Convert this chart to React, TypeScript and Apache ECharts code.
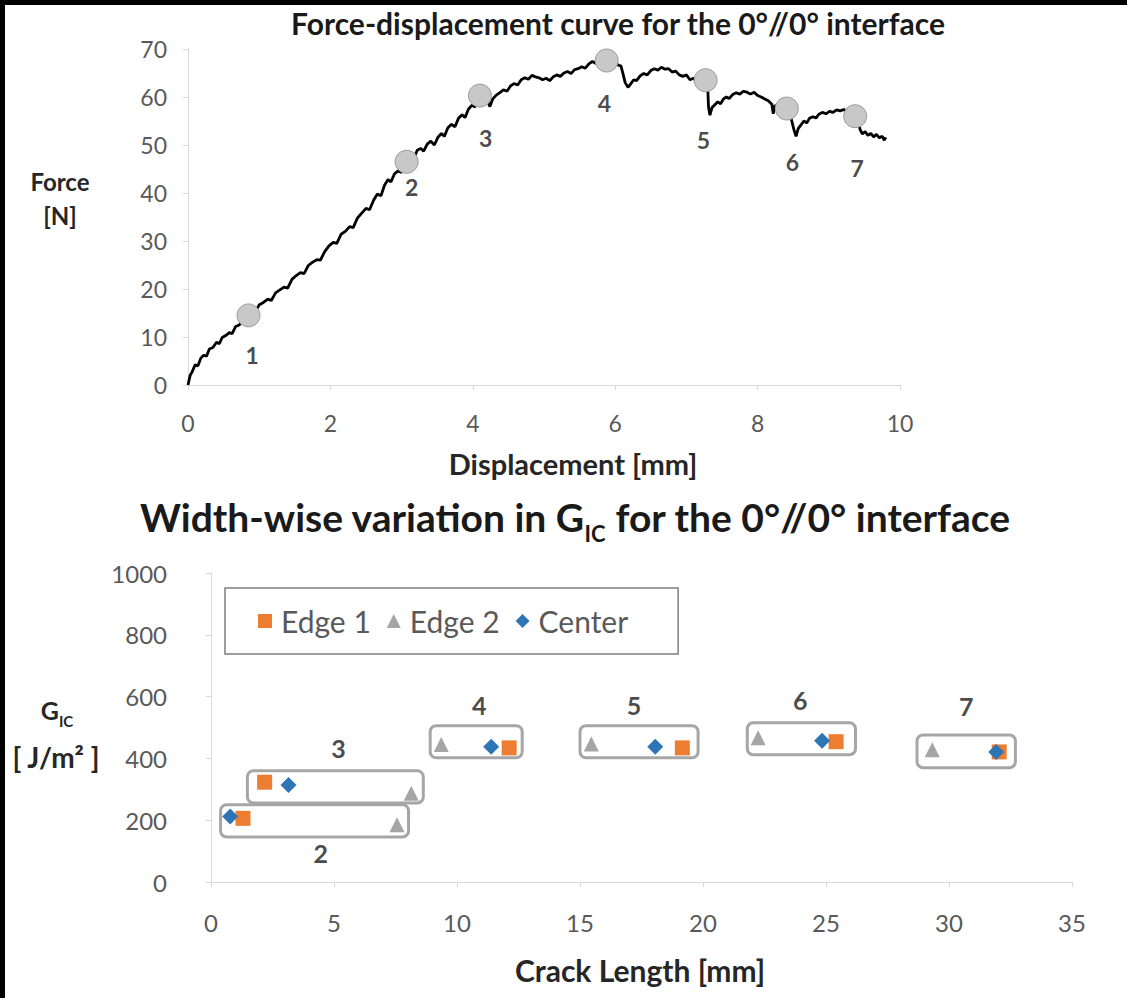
import React, { useEffect, useRef } from "react";
import * as echarts from "echarts";

// ---------- Force-displacement curve ----------
const dispMM = [
  0.00, 0.03, 0.06, 0.10, 0.14, 0.18, 0.22, 0.26, 0.30, 0.35, 0.40, 0.44, 0.48, 0.53, 0.58, 0.62, 0.67, 0.72, 0.77, 0.81, 0.85,
  0.90, 0.95, 1.00, 1.06, 1.12, 1.17, 1.23, 1.29, 1.35, 1.40, 1.46, 1.52, 1.58, 1.63, 1.69, 1.75, 1.81, 1.86, 1.92, 1.98,
  2.04, 2.09, 2.15, 2.21, 2.27, 2.32, 2.38, 2.44, 2.50, 2.55, 2.61, 2.66, 2.71, 2.76, 2.81, 2.85, 2.90, 2.95, 3.00, 3.04, 3.07,
  3.12, 3.17, 3.22, 3.27, 3.31, 3.36, 3.41, 3.46, 3.51, 3.56, 3.60, 3.65, 3.70, 3.75, 3.80, 3.85, 3.89, 3.94, 3.99, 4.03, 4.07, 4.10,
  4.15, 4.20, 4.24, 4.28, 4.33, 4.38, 4.43, 4.48, 4.53, 4.58, 4.63, 4.68, 4.73, 4.78, 4.83, 4.88, 4.93, 4.98, 5.03, 5.08,
  5.13, 5.18, 5.23, 5.28, 5.33, 5.38, 5.43, 5.48, 5.53, 5.58, 5.63, 5.68, 5.73, 5.78, 5.83, 5.88,
  5.95, 6.00, 6.05, 6.08, 6.11, 6.14, 6.18, 6.22, 6.26, 6.30, 6.35, 6.40, 6.45, 6.50, 6.55, 6.60, 6.65, 6.70, 6.75, 6.80,
  6.85, 6.90, 6.95, 7.00, 7.05, 7.10, 7.15, 7.20, 7.27,
  7.30, 7.31, 7.33, 7.36, 7.40, 7.44, 7.48, 7.52, 7.56, 7.60, 7.65, 7.70, 7.75, 7.80, 7.85, 7.90, 7.95, 8.00, 8.05, 8.10,
  8.15, 8.20, 8.22, 8.24, 8.30, 8.35, 8.41,
  8.45, 8.48, 8.51, 8.54, 8.57, 8.61, 8.65, 8.69, 8.73, 8.78, 8.82, 8.86, 8.91, 8.96, 9.01, 9.06, 9.11, 9.16, 9.21, 9.26, 9.31, 9.37,
  9.41, 9.44, 9.47, 9.51, 9.55, 9.59, 9.63, 9.67, 9.71, 9.75, 9.78, 9.80,
];
const forceN = [
  0.0, 2.0, 2.8, 4.2, 4.0, 5.6, 6.2, 6.0, 7.5, 7.8, 8.9, 8.6, 9.9, 10.3, 10.9, 10.7, 12.2, 12.5, 13.6, 13.5, 14.6,
  15.5, 15.4, 16.7, 17.2, 17.9, 17.6, 19.2, 19.8, 20.4, 20.2, 22.0, 22.8, 23.4, 23.2, 24.9, 25.6, 26.1, 26.0, 27.8, 29.0,
  29.7, 29.5, 31.4, 32.0, 33.0, 32.8, 34.8, 35.8, 36.8, 36.5, 38.6, 39.8, 39.4, 41.6, 42.8, 42.3, 44.0, 44.6, 44.3, 45.9, 46.5,
  47.6, 47.2, 48.9, 49.3, 48.7, 50.2, 50.8, 50.0, 51.6, 52.4, 51.8, 53.6, 54.3, 53.8, 55.6, 56.3, 55.7, 57.5, 58.3, 57.9, 59.6, 60.3,
  60.0, 59.4, 58.0, 59.6, 60.4, 60.9, 61.5, 61.2, 62.3, 62.8, 62.5, 63.6, 64.0, 63.7, 64.5, 64.2, 64.0, 63.6, 63.9, 63.4,
  64.2, 64.6, 64.3, 65.0, 65.3, 64.9, 65.7, 65.9, 66.3, 66.0, 66.9, 67.4, 67.0, 67.8, 67.5, 67.6,
  67.3, 67.0, 66.6, 66.5, 64.8, 63.0, 62.0, 62.8, 63.6, 63.4, 64.4, 64.9, 64.6, 65.5, 65.9, 65.6, 66.2, 65.8, 65.9, 65.2,
  65.4, 64.6, 64.3, 64.6, 63.6, 63.9, 63.2, 63.4, 63.6,
  62.0, 58.0, 56.2, 57.8, 58.4, 59.0, 58.6, 59.6, 60.0, 59.7, 60.5, 60.9, 60.6, 61.2, 61.0, 60.6, 61.0, 60.3, 60.0, 59.6,
  59.2, 58.5, 56.5, 58.2, 58.0, 57.4, 57.6,
  56.8, 55.0, 53.2, 51.8, 53.4, 54.2, 55.0, 54.6, 55.6, 55.9, 55.6, 56.4, 56.8, 56.5, 57.0, 56.8, 57.3, 57.1, 57.4, 56.9, 56.4, 56.0,
  55.0, 53.2, 52.3, 52.8, 52.0, 52.4, 51.7, 52.2, 51.5, 51.8, 51.0, 51.6,
];

// crack-event markers on the curve
const markerX = [0.85, 3.07, 4.1, 5.88, 7.27, 8.41, 9.37];
const markerY = [14.5, 46.5, 60.3, 67.6, 63.5, 57.6, 56.0];
const markerNames = ["1", "2", "3", "4", "5", "6", "7"];
const markerLabelX = [0.9, 3.14, 4.18, 5.85, 7.24, 8.49, 9.4];
const markerLabelY = [6.25, 41.3, 51.5, 58.75, 51.0, 46.5, 45.2];

// ---------- Width-wise GIC ----------
const edge1X = [1.3, 2.18, 12.12, 19.16, 25.41, 32.04];
const edge1Y = [206, 323, 434, 434, 454, 421];
const edge2X = [7.56, 8.14, 9.36, 15.46, 22.24, 29.32];
const edge2Y = [185, 287, 445, 447, 467, 428];
const centerX = [0.78, 3.15, 11.39, 18.06, 24.84, 31.92];
const centerY = [212, 314, 438, 438, 457, 421];

const boxX1 = [0.39, 1.48, 8.91, 15.0, 21.8, 28.7];
const boxX2 = [8.03, 8.63, 12.65, 19.8, 26.2, 32.7];
const boxYTop = [250, 360, 506, 506, 515, 476];
const boxYBottom = [146, 256, 402, 402, 412, 370];
const groupNames = ["2", "3", "4", "5", "6", "7"];
const groupLabelX = [4.46, 5.18, 10.9, 17.2, 23.95, 30.7];
const groupLabelY = [94, 434, 574, 574, 590, 570];

const FONT = "Lato, 'Open Sans', sans-serif";
const axisGray = "#d9d9d9";
const tickText = "#595959";

export default function App() {
  const ref = useRef<HTMLDivElement>(null);
  useEffect(() => {
    if (!ref.current) return;
    const chart = echarts.init(ref.current, undefined, { renderer: "svg" });

    const axisCommon = {
      type: "value",
      axisLine: { show: true, onZero: false, lineStyle: { color: axisGray, width: 1 } },
      axisTick: { show: true, length: 5, lineStyle: { color: axisGray } },
      splitLine: { show: false },
      axisLabel: { color: tickText, fontSize: 23, fontFamily: FONT, formatter: (v: number) => String(v) },
    };

    const option = {
      animation: false,
      backgroundColor: "#ffffff",
      textStyle: { fontFamily: FONT },
      grid: [
        { left: 188, top: 49, width: 712, height: 336 },
        { left: 211, top: 573, width: 861, height: 309 },
      ],
      xAxis: [
        { ...axisCommon, gridIndex: 0, min: 0, max: 10, interval: 2, axisLabel: { ...axisCommon.axisLabel, margin: 26 } },
        { ...axisCommon, gridIndex: 1, min: 0, max: 35, interval: 5, axisLabel: { ...axisCommon.axisLabel, fontSize: 24, margin: 28 } },
      ],
      yAxis: [
        { ...axisCommon, gridIndex: 0, min: 0, max: 70, interval: 10, axisLabel: { ...axisCommon.axisLabel, margin: 21 } },
        { ...axisCommon, gridIndex: 1, min: 0, max: 1000, interval: 200, axisLabel: { ...axisCommon.axisLabel, fontSize: 24, margin: 44 } },
      ],
      legend: {
        data: ["Edge 1", "Edge 2", "Center"],
        left: 225,
        top: 588,
        padding: [18, 50, 18, 33],
        borderColor: "#7f7f7f",
        borderWidth: 1.5,
        itemWidth: 14,
        itemHeight: 14,
        itemGap: 16,
        textStyle: { fontSize: 30, color: tickText, fontFamily: FONT, padding: [0, 0, 0, 4] },
      },
      graphic: [
        { type: "rect", shape: { x: 0, y: 0, width: 1127, height: 5 }, style: { fill: "#000" }, z: 100 },
        { type: "rect", shape: { x: 0, y: 0, width: 5, height: 998 }, style: { fill: "#000" }, z: 100 },
        {
          type: "text", x: 618, y: 23,
          style: { text: "Force-displacement curve for the 0°//0° interface", fill: "#1a1a1a", font: `bold 30px ${FONT}`, textAlign: "center", textVerticalAlign: "middle" },
        },
        {
          type: "text", x: 60, y: 181,
          style: { text: "Force", fill: "#262626", font: `bold 24px ${FONT}`, textAlign: "center", textVerticalAlign: "middle" },
        },
        {
          type: "text", x: 60, y: 215,
          style: { text: "[N]", fill: "#262626", font: `bold 24px ${FONT}`, textAlign: "center", textVerticalAlign: "middle" },
        },
        {
          type: "text", x: 573, y: 463,
          style: { text: "Displacement [mm]", fill: "#262626", font: `bold 29px ${FONT}`, textAlign: "center", textVerticalAlign: "middle" },
        },
        {
          type: "text", x: 575, y: 521,
          style: {
            text: "{a|Width-wise variation in G}{s|IC}{a| for the 0°//0° interface}",
            fill: "#1a1a1a", textAlign: "center", textVerticalAlign: "middle",
            rich: {
              a: { font: `bold 39px ${FONT}`, fill: "#1a1a1a", verticalAlign: "bottom", padding: [0, 0, 8, 0] },
              s: { font: `bold 22px ${FONT}`, fill: "#1a1a1a", verticalAlign: "bottom" },
            },
          },
        },
        {
          type: "text", x: 57, y: 713,
          style: {
            text: "{a|G}{s|IC}",
            textAlign: "center", textVerticalAlign: "middle",
            rich: {
              a: { font: `bold 25px ${FONT}`, fill: "#262626", verticalAlign: "bottom", padding: [0, 0, 6, 0] },
              s: { font: `bold 15px ${FONT}`, fill: "#262626", verticalAlign: "bottom" },
            },
          },
        },
        {
          type: "text", x: 56, y: 757,
          style: { text: "[ J/m² ]", fill: "#262626", font: `bold 28px ${FONT}`, textAlign: "center", textVerticalAlign: "middle" },
        },
        {
          type: "text", x: 640, y: 970,
          style: { text: "Crack Length [mm]", fill: "#262626", font: `bold 30px ${FONT}`, textAlign: "center", textVerticalAlign: "middle" },
        },
      ],
      series: [
        {
          type: "line",
          xAxisIndex: 0, yAxisIndex: 0,
          data: dispMM.map((x, i) => [x, forceN[i]]),
          showSymbol: false,
          symbol: "none",
          lineStyle: { color: "#000", width: 2.8 },
          z: 2,
          silent: true,
        },
        {
          type: "scatter",
          xAxisIndex: 0, yAxisIndex: 0,
          data: markerX.map((x, i) => [x, markerY[i]]),
          symbol: "circle",
          symbolSize: 23,
          itemStyle: { color: "#c8c8c8", borderColor: "#9a9a9a", borderWidth: 1, opacity: 1 },
          z: 3,
        },
        {
          type: "scatter",
          xAxisIndex: 0, yAxisIndex: 0,
          data: markerLabelX.map((x, i) => ({ value: [x, markerLabelY[i]], name: markerNames[i] })),
          symbolSize: 1,
          itemStyle: { color: "rgba(0,0,0,0)" },
          label: { show: true, position: "inside", formatter: "{b}", fontSize: 23, fontWeight: "bold", color: "#1a1a1a", fontFamily: FONT },
          z: 4,
        },
        {
          type: "custom",
          xAxisIndex: 1, yAxisIndex: 1,
          data: boxX1.map((x, i) => [x, boxYTop[i], boxX2[i], boxYBottom[i]]),
          encode: { x: [0, 2], y: [1, 3] },
          renderItem: (params: any, api: any) => {
            const p1 = api.coord([api.value(0), api.value(1)]);
            const p2 = api.coord([api.value(2), api.value(3)]);
            return {
              type: "rect",
              shape: { x: p1[0], y: p1[1], width: p2[0] - p1[0], height: p2[1] - p1[1], r: 6 },
              style: { fill: "rgba(255,255,255,0)", stroke: "#a6a6a6", lineWidth: 3 },
            };
          },
          z: 2,
          silent: true,
        },
        {
          name: "Edge 1",
          type: "scatter",
          xAxisIndex: 1, yAxisIndex: 1,
          data: edge1X.map((x, i) => [x, edge1Y[i]]),
          symbol: "rect",
          symbolSize: 15,
          itemStyle: { color: "#ed7d31", opacity: 1 },
          z: 3,
        },
        {
          name: "Edge 2",
          type: "scatter",
          xAxisIndex: 1, yAxisIndex: 1,
          data: edge2X.map((x, i) => [x, edge2Y[i]]),
          symbol: "triangle",
          symbolSize: 15,
          itemStyle: { color: "#a5a5a5", opacity: 1 },
          z: 3,
        },
        {
          name: "Center",
          type: "scatter",
          xAxisIndex: 1, yAxisIndex: 1,
          data: centerX.map((x, i) => [x, centerY[i]]),
          symbol: "diamond",
          symbolSize: 16,
          itemStyle: { color: "#2e75b6", opacity: 1 },
          z: 4,
        },
        {
          type: "scatter",
          xAxisIndex: 1, yAxisIndex: 1,
          data: groupLabelX.map((x, i) => ({ value: [x, groupLabelY[i]], name: groupNames[i] })),
          symbolSize: 1,
          itemStyle: { color: "rgba(0,0,0,0)" },
          label: { show: true, position: "inside", formatter: "{b}", fontSize: 25, fontWeight: "bold", color: "#1a1a1a", fontFamily: FONT },
          z: 4,
        },
      ],
    };

    chart.setOption(option as any);
    return () => chart.dispose();
  }, []);

  return (
    <div
      ref={ref}
      style={{ position: "absolute", left: 0, top: 0, width: 1127, height: 998, background: "#fff" }}
    />
  );
}
